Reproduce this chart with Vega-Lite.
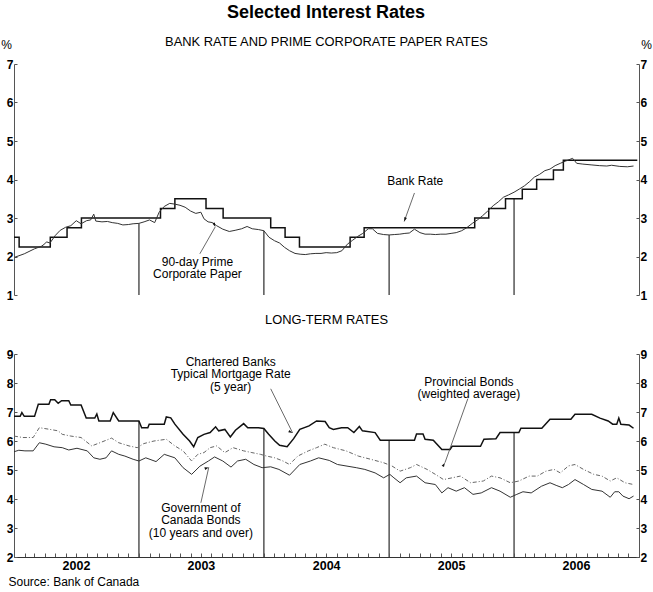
{
  "$schema": "https://vega.github.io/schema/vega-lite/v6.json",
  "background": "white",
  "padding": {"left": 0, "right": 3, "top": 4, "bottom": 4},
  "title": {"text": "Selected Interest Rates", "fontSize": 18, "fontWeight": "bold", "font": "Liberation Sans", "anchor": "middle", "offset": 14, "color": "#000"},
  "spacing": 13,
  "config": {
    "font": "Liberation Sans",
    "view": {"stroke": null},
    "axis": {"grid": false, "domainColor": "#555", "domainWidth": 1, "tickColor": "#555", "labelFont": "Liberation Sans", "labelFontSize": 12, "labelFontWeight": "bold", "labelColor": "#000", "titleColor": "#000", "titleFont": "Liberation Sans"},
    "title": {"font": "Liberation Sans", "color": "#000", "fontWeight": "normal", "fontSize": 12.9},
    "text": {"font": "Liberation Sans", "fontSize": 12, "color": "#000"}
  },
  "datasets": {
    "bank": [
      {"d":"2002-01-01","v":2.5},{"d":"2002-01-16","v":2.25},{"d":"2002-04-17","v":2.5},{"d":"2002-06-05","v":2.75},{"d":"2002-07-17","v":3.0},
      {"d":"2003-03-05","v":3.25},{"d":"2003-04-16","v":3.5},{"d":"2003-07-16","v":3.25},{"d":"2003-09-04","v":3.0},
      {"d":"2004-01-21","v":2.75},{"d":"2004-03-03","v":2.5},{"d":"2004-04-14","v":2.25},{"d":"2004-09-09","v":2.5},{"d":"2004-10-20","v":2.75},
      {"d":"2005-09-08","v":3.0},{"d":"2005-10-19","v":3.25},{"d":"2005-12-07","v":3.5},
      {"d":"2006-01-25","v":3.75},{"d":"2006-03-08","v":4.0},{"d":"2006-04-26","v":4.25},{"d":"2006-05-25","v":4.5},{"d":"2006-12-27","v":4.5}
    ],
    "cp": [
      {"d":"2002-01-03","v":1.98},{"d":"2002-01-31","v":2.07},{"d":"2002-03-02","v":2.2},{"d":"2002-03-23","v":2.27},{"d":"2002-04-01","v":2.33},{"d":"2002-04-06","v":2.38},{"d":"2002-04-16","v":2.35},{"d":"2002-05-02","v":2.55},{"d":"2002-05-16","v":2.68},{"d":"2002-06-01","v":2.76},{"d":"2002-06-16","v":2.8},{"d":"2002-07-02","v":2.93},{"d":"2002-07-16","v":2.85},{"d":"2002-08-01","v":2.93},{"d":"2002-08-13","v":2.95},{"d":"2002-08-22","v":3.1},{"d":"2002-08-28","v":2.92},{"d":"2002-09-15","v":2.9},{"d":"2002-10-01","v":2.91},{"d":"2002-10-15","v":2.88},{"d":"2002-10-31","v":2.86},{"d":"2002-11-15","v":2.82},{"d":"2002-12-01","v":2.83},{"d":"2002-12-15","v":2.85},
      {"d":"2003-01-01","v":2.86},{"d":"2003-01-16","v":2.9},{"d":"2003-02-01","v":2.95},{"d":"2003-02-16","v":2.88},{"d":"2003-03-01","v":3.15},{"d":"2003-03-16","v":3.3},{"d":"2003-04-01","v":3.38},{"d":"2003-04-16","v":3.36},{"d":"2003-05-01","v":3.33},{"d":"2003-05-16","v":3.28},{"d":"2003-06-01","v":3.18},{"d":"2003-06-16","v":3.12},{"d":"2003-07-01","v":3.15},{"d":"2003-07-10","v":2.98},{"d":"2003-07-22","v":2.9},{"d":"2003-08-04","v":2.88},{"d":"2003-08-16","v":2.8},{"d":"2003-09-03","v":2.71},{"d":"2003-09-22","v":2.65},{"d":"2003-10-09","v":2.68},{"d":"2003-10-28","v":2.72},{"d":"2003-11-13","v":2.78},{"d":"2003-11-28","v":2.72},{"d":"2003-12-16","v":2.7},
      {"d":"2004-01-01","v":2.67},{"d":"2004-01-16","v":2.5},{"d":"2004-02-01","v":2.41},{"d":"2004-02-16","v":2.35},{"d":"2004-03-01","v":2.24},{"d":"2004-03-16","v":2.15},{"d":"2004-04-01","v":2.08},{"d":"2004-04-16","v":2.06},{"d":"2004-05-01","v":2.05},{"d":"2004-05-16","v":2.07},{"d":"2004-06-01","v":2.08},{"d":"2004-06-16","v":2.08},{"d":"2004-07-01","v":2.1},{"d":"2004-07-16","v":2.09},{"d":"2004-08-01","v":2.1},{"d":"2004-08-16","v":2.15},{"d":"2004-09-01","v":2.32},{"d":"2004-09-16","v":2.42},{"d":"2004-10-01","v":2.52},{"d":"2004-10-16","v":2.6},{"d":"2004-11-01","v":2.72},{"d":"2004-11-13","v":2.72},{"d":"2004-11-28","v":2.6},{"d":"2004-12-16","v":2.57},
      {"d":"2005-01-01","v":2.56},{"d":"2005-01-16","v":2.57},{"d":"2005-02-01","v":2.58},{"d":"2005-02-16","v":2.6},{"d":"2005-03-01","v":2.61},{"d":"2005-03-16","v":2.71},{"d":"2005-04-01","v":2.62},{"d":"2005-04-16","v":2.58},{"d":"2005-05-01","v":2.58},{"d":"2005-05-16","v":2.57},{"d":"2005-06-01","v":2.58},{"d":"2005-06-16","v":2.58},{"d":"2005-07-01","v":2.6},{"d":"2005-07-16","v":2.62},{"d":"2005-08-01","v":2.67},{"d":"2005-08-16","v":2.75},{"d":"2005-09-01","v":2.86},{"d":"2005-09-16","v":2.95},{"d":"2005-10-01","v":3.06},{"d":"2005-10-16","v":3.18},{"d":"2005-11-01","v":3.32},{"d":"2005-11-16","v":3.42},{"d":"2005-12-01","v":3.54},{"d":"2005-12-16","v":3.6},
      {"d":"2006-01-01","v":3.67},{"d":"2006-01-16","v":3.75},{"d":"2006-02-01","v":3.84},{"d":"2006-02-16","v":3.95},{"d":"2006-03-01","v":4.06},{"d":"2006-03-16","v":4.13},{"d":"2006-04-01","v":4.23},{"d":"2006-04-16","v":4.27},{"d":"2006-05-01","v":4.36},{"d":"2006-05-16","v":4.42},{"d":"2006-06-01","v":4.48},{"d":"2006-06-21","v":4.55},{"d":"2006-07-03","v":4.42},{"d":"2006-07-21","v":4.4},{"d":"2006-08-14","v":4.38},{"d":"2006-09-07","v":4.36},{"d":"2006-09-29","v":4.35},{"d":"2006-10-13","v":4.37},{"d":"2006-11-06","v":4.34},{"d":"2006-11-28","v":4.33},{"d":"2006-12-16","v":4.35}
    ],
    "mort": [
      {"d":"2002-01-01","v":6.85},{"d":"2002-01-19","v":6.85},{"d":"2002-01-24","v":6.98},{"d":"2002-01-31","v":6.85},{"d":"2002-03-02","v":6.85},{"d":"2002-03-13","v":7.27},{"d":"2002-04-13","v":7.27},{"d":"2002-04-18","v":7.42},{"d":"2002-04-30","v":7.42},{"d":"2002-05-10","v":7.3},{"d":"2002-05-20","v":7.39},{"d":"2002-06-10","v":7.39},{"d":"2002-06-16","v":7.24},{"d":"2002-07-16","v":7.24},{"d":"2002-07-31","v":6.79},{"d":"2002-08-25","v":6.79},{"d":"2002-08-31","v":6.93},{"d":"2002-09-06","v":6.69},{"d":"2002-10-09","v":6.69},{"d":"2002-10-18","v":6.98},{"d":"2002-11-03","v":6.69},
      {"d":"2003-01-01","v":6.69},{"d":"2003-01-09","v":6.46},{"d":"2003-01-27","v":6.46},{"d":"2003-01-31","v":6.58},{"d":"2003-03-16","v":6.58},{"d":"2003-03-22","v":6.83},{"d":"2003-04-04","v":6.8},{"d":"2003-04-16","v":6.58},{"d":"2003-05-10","v":6.23},{"d":"2003-05-29","v":6.0},{"d":"2003-06-10","v":5.8},{"d":"2003-06-22","v":6.12},{"d":"2003-07-10","v":6.23},{"d":"2003-07-28","v":6.29},{"d":"2003-08-13","v":6.49},{"d":"2003-08-22","v":6.35},{"d":"2003-09-09","v":6.4},{"d":"2003-09-25","v":6.14},{"d":"2003-10-10","v":6.37},{"d":"2003-11-03","v":6.6},{"d":"2003-11-15","v":6.46},{"d":"2003-12-16","v":6.46},
      {"d":"2004-01-01","v":6.43},{"d":"2004-01-15","v":6.23},{"d":"2004-02-02","v":6.0},{"d":"2004-02-16","v":5.85},{"d":"2004-03-09","v":5.8},{"d":"2004-03-28","v":6.08},{"d":"2004-04-15","v":6.4},{"d":"2004-05-12","v":6.52},{"d":"2004-06-03","v":6.69},{"d":"2004-06-28","v":6.67},{"d":"2004-07-10","v":6.46},{"d":"2004-07-22","v":6.4},{"d":"2004-08-15","v":6.46},{"d":"2004-09-02","v":6.46},{"d":"2004-09-20","v":6.29},{"d":"2004-10-06","v":6.5},{"d":"2004-10-15","v":6.35},{"d":"2004-11-21","v":6.29},{"d":"2004-12-06","v":6.03},
      {"d":"2005-03-16","v":6.03},{"d":"2005-03-22","v":6.24},{"d":"2005-04-10","v":6.24},{"d":"2005-04-16","v":6.06},{"d":"2005-05-10","v":6.03},{"d":"2005-06-04","v":5.71},{"d":"2005-06-28","v":5.71},{"d":"2005-07-04","v":5.82},{"d":"2005-09-25","v":5.82},{"d":"2005-10-05","v":6.06},{"d":"2005-11-09","v":6.08},{"d":"2005-11-21","v":6.29},
      {"d":"2006-01-15","v":6.29},{"d":"2006-01-21","v":6.44},{"d":"2006-03-23","v":6.44},{"d":"2006-04-16","v":6.75},{"d":"2006-06-16","v":6.75},{"d":"2006-06-28","v":6.92},{"d":"2006-08-16","v":6.92},{"d":"2006-09-09","v":6.79},{"d":"2006-10-03","v":6.69},{"d":"2006-10-16","v":6.58},{"d":"2006-10-28","v":6.58},{"d":"2006-11-03","v":6.79},{"d":"2006-11-09","v":6.58},{"d":"2006-12-03","v":6.55},{"d":"2006-12-16","v":6.44}
    ],
    "prov": [
      {"d":"2002-01-01","v":6.17},{"d":"2002-01-27","v":6.12},{"d":"2002-02-26","v":6.12},{"d":"2002-03-16","v":6.46},{"d":"2002-04-16","v":6.4},{"d":"2002-05-10","v":6.35},{"d":"2002-05-22","v":6.23},{"d":"2002-06-16","v":6.17},{"d":"2002-07-16","v":6.12},{"d":"2002-08-16","v":5.83},{"d":"2002-09-09","v":5.94},{"d":"2002-10-13","v":6.1},{"d":"2002-11-03","v":5.94},{"d":"2002-12-03","v":5.83},{"d":"2002-12-27","v":5.77},
      {"d":"2003-01-15","v":5.91},{"d":"2003-02-14","v":6.0},{"d":"2003-03-22","v":6.06},{"d":"2003-04-16","v":5.83},{"d":"2003-05-10","v":5.66},{"d":"2003-06-04","v":5.31},{"d":"2003-06-22","v":5.54},{"d":"2003-07-10","v":5.6},{"d":"2003-07-28","v":5.77},{"d":"2003-08-16","v":5.83},{"d":"2003-09-09","v":5.6},{"d":"2003-10-03","v":5.77},{"d":"2003-11-03","v":5.66},{"d":"2003-11-27","v":5.6},{"d":"2003-12-22","v":5.54},
      {"d":"2004-01-09","v":5.48},{"d":"2004-02-02","v":5.42},{"d":"2004-02-26","v":5.31},{"d":"2004-03-16","v":5.19},{"d":"2004-04-09","v":5.48},{"d":"2004-05-10","v":5.66},{"d":"2004-06-03","v":5.77},{"d":"2004-06-27","v":5.89},{"d":"2004-07-22","v":5.77},{"d":"2004-08-28","v":5.66},{"d":"2004-10-03","v":5.48},{"d":"2004-11-08","v":5.37},{"d":"2004-12-16","v":5.25},
      {"d":"2005-01-09","v":5.14},{"d":"2005-02-02","v":4.96},{"d":"2005-03-04","v":5.08},{"d":"2005-03-22","v":5.19},{"d":"2005-04-22","v":5.02},{"d":"2005-05-16","v":4.85},{"d":"2005-06-09","v":4.67},{"d":"2005-07-04","v":4.73},{"d":"2005-07-28","v":4.79},{"d":"2005-08-27","v":4.56},{"d":"2005-10-03","v":4.62},{"d":"2005-10-27","v":4.79},{"d":"2005-11-21","v":4.73},{"d":"2005-12-21","v":4.56},
      {"d":"2006-01-15","v":4.62},{"d":"2006-02-14","v":4.79},{"d":"2006-03-10","v":4.79},{"d":"2006-04-04","v":4.96},{"d":"2006-04-28","v":5.02},{"d":"2006-05-16","v":4.9},{"d":"2006-06-09","v":5.14},{"d":"2006-06-28","v":5.19},{"d":"2006-07-23","v":5.02},{"d":"2006-08-22","v":4.85},{"d":"2006-09-15","v":4.79},{"d":"2006-10-09","v":4.62},{"d":"2006-10-28","v":4.73},{"d":"2006-11-21","v":4.56},{"d":"2006-12-16","v":4.5}
    ],
    "gov": [
      {"d":"2002-01-01","v":5.63},{"d":"2002-01-15","v":5.68},{"d":"2002-02-02","v":5.66},{"d":"2002-02-26","v":5.66},{"d":"2002-03-16","v":5.94},{"d":"2002-04-04","v":5.89},{"d":"2002-04-28","v":5.8},{"d":"2002-05-22","v":5.77},{"d":"2002-06-10","v":5.69},{"d":"2002-07-04","v":5.75},{"d":"2002-08-03","v":5.66},{"d":"2002-08-22","v":5.42},{"d":"2002-09-09","v":5.37},{"d":"2002-09-27","v":5.42},{"d":"2002-10-13","v":5.66},{"d":"2002-11-03","v":5.54},{"d":"2002-11-21","v":5.48},{"d":"2002-12-15","v":5.37},
      {"d":"2003-01-01","v":5.31},{"d":"2003-01-21","v":5.42},{"d":"2003-02-20","v":5.29},{"d":"2003-03-16","v":5.54},{"d":"2003-04-16","v":5.42},{"d":"2003-05-10","v":5.08},{"d":"2003-06-04","v":4.85},{"d":"2003-06-28","v":5.13},{"d":"2003-07-23","v":5.31},{"d":"2003-08-10","v":5.45},{"d":"2003-09-03","v":5.31},{"d":"2003-09-27","v":5.1},{"d":"2003-10-16","v":5.31},{"d":"2003-11-09","v":5.37},{"d":"2003-12-03","v":5.19},{"d":"2003-12-27","v":5.08},
      {"d":"2004-01-21","v":5.11},{"d":"2004-02-14","v":5.02},{"d":"2004-03-16","v":4.82},{"d":"2004-04-15","v":5.19},{"d":"2004-05-16","v":5.31},{"d":"2004-06-09","v":5.42},{"d":"2004-07-10","v":5.33},{"d":"2004-08-03","v":5.19},{"d":"2004-08-28","v":5.14},{"d":"2004-09-27","v":5.08},{"d":"2004-10-22","v":5.02},{"d":"2004-11-21","v":4.9},{"d":"2004-12-16","v":4.73},
      {"d":"2005-01-03","v":4.85},{"d":"2005-01-15","v":4.73},{"d":"2005-02-02","v":4.56},{"d":"2005-02-20","v":4.73},{"d":"2005-03-22","v":4.79},{"d":"2005-04-16","v":4.56},{"d":"2005-05-16","v":4.5},{"d":"2005-06-04","v":4.21},{"d":"2005-06-22","v":4.39},{"d":"2005-07-16","v":4.27},{"d":"2005-08-09","v":4.39},{"d":"2005-09-03","v":4.16},{"d":"2005-09-27","v":4.21},{"d":"2005-10-27","v":4.39},{"d":"2005-11-21","v":4.27},{"d":"2005-12-21","v":4.06},
      {"d":"2006-01-09","v":4.16},{"d":"2006-01-27","v":4.25},{"d":"2006-02-20","v":4.21},{"d":"2006-03-22","v":4.44},{"d":"2006-04-16","v":4.56},{"d":"2006-05-04","v":4.47},{"d":"2006-05-22","v":4.39},{"d":"2006-06-09","v":4.5},{"d":"2006-06-28","v":4.67},{"d":"2006-07-23","v":4.5},{"d":"2006-08-16","v":4.33},{"d":"2006-09-15","v":4.27},{"d":"2006-10-09","v":4.06},{"d":"2006-10-22","v":4.25},{"d":"2006-11-03","v":4.25},{"d":"2006-11-15","v":4.1},{"d":"2006-12-03","v":4.01},{"d":"2006-12-16","v":4.1}
    ],
    "sepTop": [
      {"d":"2003-01-01","lo":1,"hi":2.86},{"d":"2004-01-01","lo":1,"hi":2.67},{"d":"2005-01-01","lo":1,"hi":2.56},{"d":"2006-01-01","lo":1,"hi":3.5}
    ],
    "sepBot": [
      {"d":"2003-01-01","lo":2,"hi":6.69},{"d":"2004-01-01","lo":2,"hi":6.43},{"d":"2005-01-01","lo":2,"hi":6.03},{"d":"2006-01-01","lo":2,"hi":6.29}
    ],
    "txtTop": [
      {"d":"2005-03-18","v":3.97,"t":"Bank Rate"},
      {"d":"2003-06-21","v":1.86,"t":"90-day Prime\nCorporate Paper"}
    ],
    "arrTop": [
      {"n":"br","d1":"2005-03-16","v1":3.65,"d2":"2005-02-14","v2":2.91},
      {"n":"cp","d1":"2003-06-28","v1":2.07,"d2":"2003-08-12","v2":2.77}
    ],
    "txtBot": [
      {"d":"2003-09-26","v":8.73,"t":"Chartered Banks\nTypical Mortgage Rate\n(5 year)"},
      {"d":"2005-08-22","v":8.05,"t":"Provincial Bonds\n(weighted average)"},
      {"d":"2003-07-01","v":3.7,"t":"Government of\nCanada Bonds\n(10 years and over)"}
    ],
    "arrBot": [
      {"n":"mort","d1":"2004-01-21","v1":7.8,"d2":"2004-03-25","v2":6.28},
      {"n":"gov","d1":"2003-07-01","v1":3.87,"d2":"2003-07-24","v2":5.09},
      {"n":"prov","d1":"2005-08-19","v1":7.46,"d2":"2005-06-13","v2":5.25}
    ]
  },
  "vconcat": [
    {
      "width": 625,
      "height": 231,
      "title": {"text": "BANK RATE AND PRIME CORPORATE PAPER RATES", "offset": -11},
      "resolve": {"axis": {"y": "independent"}},
      "layer": [
        {
          "data": {"name": "sepTop"},
          "mark": {"type": "rule", "color": "#555", "strokeWidth": 1.5},
          "encoding": {
            "x": {"field": "d", "type": "temporal", "scale": {"type": "utc", "domain": [{"year": 2002, "month": 1, "date": 1, "utc": true}, {"year": 2007, "month": 1, "date": 1, "utc": true}]}, "axis": null},
            "y": {"field": "lo", "type": "quantitative", "scale": {"domain": [1, 7], "nice": false, "zero": false},
                  "axis": {"orient": "left", "values": [1,2,3,4,5,6,7], "tickSize": -3, "labelPadding": 4, "title": "%", "titleAngle": 0, "titleX": -8, "titleY": -20, "titleAlign": "center", "titleBaseline": "middle", "titleFontWeight": "normal", "titleFontSize": 12}},
            "y2": {"field": "hi"}
          }
        },
        {
          "data": {"name": "bank"},
          "mark": {"type": "line", "interpolate": "step-after", "color": "#111", "strokeWidth": 1.5},
          "encoding": {
            "x": {"field": "d", "type": "temporal", "axis": null},
            "y": {"field": "v", "type": "quantitative",
                  "axis": {"orient": "right", "values": [1,2,3,4,5,6,7], "tickSize": -3, "labelPadding": 4, "title": "%", "titleAngle": 0, "titleX": 7, "titleY": -20, "titleAlign": "center", "titleBaseline": "middle", "titleFontWeight": "normal", "titleFontSize": 12}}
          }
        },
        {
          "data": {"name": "cp"},
          "mark": {"type": "line", "color": "#333", "strokeWidth": 1},
          "encoding": {
            "x": {"field": "d", "type": "temporal", "axis": null},
            "y": {"field": "v", "type": "quantitative", "axis": null}
          }
        },
        {
          "data": {"name": "txtTop"},
          "mark": {"type": "text", "align": "center", "baseline": "middle", "fontSize": 12, "lineBreak": "\n", "lineHeight": 12.5},
          "encoding": {
            "x": {"field": "d", "type": "temporal", "axis": null},
            "y": {"field": "v", "type": "quantitative", "axis": null},
            "text": {"field": "t"}
          }
        },
        {
          "data": {"name": "arrTop"},
          "mark": {"type": "rule", "color": "#444", "strokeWidth": 0.8},
          "encoding": {
            "x": {"field": "d1", "type": "temporal", "axis": null},
            "x2": {"field": "d2"},
            "y": {"field": "v1", "type": "quantitative", "axis": null},
            "y2": {"field": "v2"}
          }
        },
        {
          "data": {"name": "arrTop"},
          "mark": {"type": "point", "shape": "M0,0L-0.45,1.4L0.45,1.4Z", "filled": true, "color": "#111", "size": 36, "opacity": 1},
          "encoding": {
            "x": {"field": "d2", "type": "temporal", "axis": null},
            "y": {"field": "v2", "type": "quantitative", "axis": null},
            "angle": {"field": "n", "type": "nominal", "scale": {"domain": ["br", "cp"], "range": [200, 30]}, "legend": null}
          }
        }
      ]
    },
    {
      "width": 625,
      "height": 203,
      "title": {"text": "LONG-TERM RATES", "offset": 21},
      "resolve": {"axis": {"y": "independent"}},
      "layer": [
        {
          "data": {"name": "sepBot"},
          "mark": {"type": "rule", "color": "#555", "strokeWidth": 1.5},
          "encoding": {
            "x": {"field": "d", "type": "temporal", "scale": {"type": "utc", "domain": [{"year": 2002, "month": 1, "date": 1, "utc": true}, {"year": 2007, "month": 1, "date": 1, "utc": true}]},
                  "axis": {"orient": "bottom", "tickCount": {"interval": "month", "step": 1}, "tickSize": -4, "labelPadding": 6, "labelOverlap": false, "labelBound": false, "labelFontSize": 12.5, "labelExpr": "utcmonth(datum.value) == 6 ? utcFormat(datum.value, '%Y') : ''", "domainColor": "#333",
                           "title": "Source: Bank of Canada", "titleX": -6, "titleY": 24, "titleAlign": "left", "titleAnchor": "start", "titleBaseline": "middle", "titleFontWeight": "normal", "titleFontSize": 12}},
            "y": {"field": "lo", "type": "quantitative", "scale": {"domain": [2, 9], "nice": false, "zero": false},
                  "axis": {"orient": "left", "values": [2,3,4,5,6,7,8,9], "tickSize": -3, "labelPadding": 4, "title": null}},
            "y2": {"field": "hi"}
          }
        },
        {
          "data": {"name": "prov"},
          "mark": {"type": "line", "color": "#666", "strokeWidth": 1, "strokeDash": [4, 2, 1, 2]},
          "encoding": {
            "x": {"field": "d", "type": "temporal"},
            "y": {"field": "v", "type": "quantitative",
                  "axis": {"orient": "right", "values": [2,3,4,5,6,7,8,9], "tickSize": -3, "labelPadding": 4, "title": null}}
          }
        },
        {
          "data": {"name": "gov"},
          "mark": {"type": "line", "color": "#333", "strokeWidth": 1},
          "encoding": {
            "x": {"field": "d", "type": "temporal"},
            "y": {"field": "v", "type": "quantitative", "axis": null}
          }
        },
        {
          "data": {"name": "mort"},
          "mark": {"type": "line", "color": "#111", "strokeWidth": 1.5},
          "encoding": {
            "x": {"field": "d", "type": "temporal"},
            "y": {"field": "v", "type": "quantitative", "axis": null}
          }
        },
        {
          "data": {"name": "txtBot"},
          "mark": {"type": "text", "align": "center", "baseline": "middle", "fontSize": 12, "lineBreak": "\n", "lineHeight": 12.5},
          "encoding": {
            "x": {"field": "d", "type": "temporal"},
            "y": {"field": "v", "type": "quantitative", "axis": null},
            "text": {"field": "t"}
          }
        },
        {
          "data": {"name": "arrBot"},
          "mark": {"type": "rule", "color": "#444", "strokeWidth": 0.8},
          "encoding": {
            "x": {"field": "d1", "type": "temporal"},
            "x2": {"field": "d2"},
            "y": {"field": "v1", "type": "quantitative", "axis": null},
            "y2": {"field": "v2"}
          }
        },
        {
          "data": {"name": "arrBot"},
          "mark": {"type": "point", "shape": "M0,0L-0.45,1.4L0.45,1.4Z", "filled": true, "color": "#111", "size": 36, "opacity": 1},
          "encoding": {
            "x": {"field": "d2", "type": "temporal"},
            "y": {"field": "v2", "type": "quantitative", "axis": null},
            "angle": {"field": "n", "type": "nominal", "scale": {"domain": ["mort", "gov", "prov"], "range": [154, 13, 199.5]}, "legend": null}
          }
        }
      ]
    }
  ]
}
